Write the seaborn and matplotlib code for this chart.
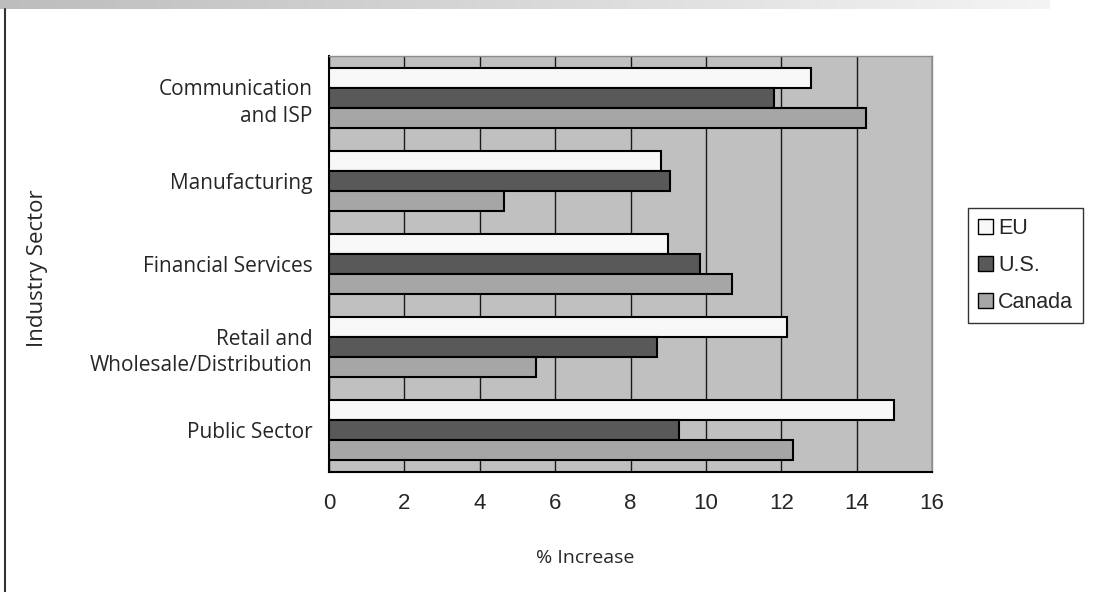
import numpy as np
import pandas as pd
import matplotlib
matplotlib.use("Agg")
import matplotlib.pyplot as plt
from matplotlib.patches import Patch
import seaborn as sns

sectors = ["Communication\nand ISP", "Manufacturing", "Financial Services",
           "Retail and\nWholesale/Distribution", "Public Sector"]
regions = ["EU", "U.S.", "Canada"]
eu = [12.8, 8.8, 9.0, 12.15, 15.0]
us = [11.8, 9.05, 9.85, 8.7, 9.3]
canada = [14.25, 4.65, 10.7, 5.5, 12.3]
x_ticks = [0, 2, 4, 6, 8, 10, 12, 14, 16]
colors = {"EU": "#f8f8f8", "U.S.": "#595959", "Canada": "#a6a6a6"}

df = pd.DataFrame({
    "sector": sectors * 3,
    "region": ["EU"] * 5 + ["U.S."] * 5 + ["Canada"] * 5,
    "value": eu + us + canada,
})

sns.set_style("white")
plt.rcParams["font.family"] = ["Open Sans", "DejaVu Sans"]

fig = plt.figure(figsize=(11.08, 5.92), dpi=100)
ax = fig.add_axes([329 / 1108, 1 - 472 / 592, 603 / 1108, 416 / 592])

sns.barplot(data=df, x="value", y="sector", hue="region", order=sectors,
            hue_order=regions, palette=colors, orient="h", width=0.72,
            edgecolor="black", linewidth=1.5, saturation=1, legend=False,
            ax=ax, zorder=3)

ax.set_facecolor("#c0c0c0")
ax.set_xlim(0, 16)
ax.set_ylim(4.5, -0.5)
ax.set_xticks(x_ticks)
ax.set_xticklabels([str(t) for t in x_ticks], family="Liberation Sans", fontsize=16)
ax.xaxis.grid(True, color="#1a1a1a", linewidth=1.0, zorder=1)
ax.set_axisbelow(True)

# category labels at centres, tick marks at category boundaries
ax.set_yticks(range(len(sectors)))
ax.set_yticklabels(sectors, fontsize=15, linespacing=1.35)
ax.tick_params(axis="y", which="major", length=0, pad=12)
ax.set_yticks(np.arange(-0.5, len(sectors)), minor=True)
ax.tick_params(axis="y", which="minor", length=6, width=1, color="black", direction="out")
ax.tick_params(axis="x", length=6, width=1, color="black", direction="out", pad=9)

for side in ["top", "right"]:
    ax.spines[side].set_color("#8c8c8c")
    ax.spines[side].set_linewidth(1)
ax.spines["left"].set_color("black")
ax.spines["left"].set_linewidth(1.5)
ax.spines["bottom"].set_color("black")
ax.spines["bottom"].set_linewidth(1.5)

ax.set_xlabel("% Increase", fontsize=14)
ax.xaxis.set_label_coords(0.425, -0.185)
ax.set_ylabel("Industry Sector", fontsize=16)
ax.yaxis.set_label_coords(-0.466, 0.49)

handles = [Patch(facecolor=colors[r], edgecolor="black", linewidth=1, label=r) for r in regions]
leg = fig.legend(handles=handles, loc="upper left", bbox_to_anchor=(968 / 1108, 1 - 208 / 592),
                 frameon=True, fancybox=False, edgecolor="black",
                 prop={"family": "Liberation Sans", "size": 15.5},
                 handlelength=0.7, handleheight=0.7, handletextpad=0.25,
                 labelspacing=0.75, borderpad=0.45, borderaxespad=0)
leg.get_frame().set_linewidth(1)

# header strip and page rule
grad = np.linspace(0.0, 1.0, 256).reshape(1, -1)
hdr = fig.add_axes([0, 1 - 9 / 592, 1050 / 1108, 9 / 592])
hdr.imshow(grad, aspect="auto", cmap=matplotlib.colors.LinearSegmentedColormap.from_list(
    "hdr", ["#bdbdbd", "#f4f4f4"]))
hdr.axis("off")
fig.add_artist(plt.Line2D([5 / 1108, 5 / 1108], [0, 1 - 9 / 592],
                          color="#333333", linewidth=1.5, transform=fig.transFigure))

fig.savefig("out.png", dpi=100)
